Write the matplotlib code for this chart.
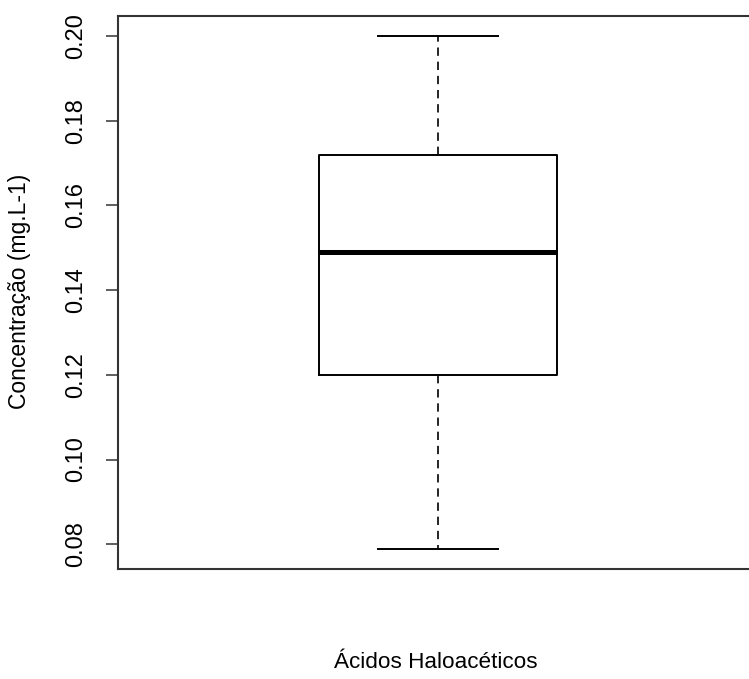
import matplotlib
matplotlib.use("Agg")
import matplotlib.pyplot as plt

plt.rcParams['font.family'] = ['Liberation Sans', 'DejaVu Sans']

# Five-number summary of haloacetic acid concentrations (mg/L)
group_label = "Ácidos Haloacéticos"
whisker_low = 0.079
quartile_1 = 0.120
median = 0.149
quartile_3 = 0.172
whisker_high = 0.200

y_ticks = [0.08, 0.10, 0.12, 0.14, 0.16, 0.18, 0.20]
y_tick_labels = ["0.08", "0.10", "0.12", "0.14", "0.16", "0.18", "0.20"]

fig = plt.figure(figsize=(7.49, 6.79), dpi=100)
ax = fig.add_axes([118 / 749, 1 - 569 / 679, 640 / 749, (569 - 15.5) / 679])

stats = [{
    "med": median, "q1": quartile_1, "q3": quartile_3,
    "whislo": whisker_low, "whishi": whisker_high,
    "fliers": [], "label": group_label,
}]
ax.bxp(stats, positions=[1], widths=0.372, showfliers=False,
       boxprops=dict(color="black", linewidth=1.4),
       medianprops=dict(color="black", linewidth=3.6, solid_capstyle="butt"),
       whiskerprops=dict(color="black", linewidth=1.2, linestyle=(0, (5, 3.5))),
       capprops=dict(color="black", linewidth=1.4),
       capwidths=0.1875)

data_range = whisker_high - whisker_low
ax.set_ylim(whisker_low - 0.04 * data_range, whisker_high + 0.04 * data_range)
ax.set_xlim(0.5, 1.5)

ax.set_yticks(y_ticks)
ax.set_yticklabels(y_tick_labels, rotation=90, va="center")
ax.tick_params(axis="y", length=8.5, width=1.1, pad=14, labelsize=17, color="#333333")
ax.set_xticks([])

for side in ("left", "top", "bottom"):
    ax.spines[side].set_linewidth(1.5)
    ax.spines[side].set_color("#333333")
ax.spines["right"].set_visible(False)

fig.text(20 / 749, 1 - 291 / 679, "Concentração (mg.L-1)", rotation=90,
         ha="center", va="center", fontsize=16.5)
fig.text(436 / 749, 1 - 663 / 679, group_label, ha="center", va="center", fontsize=16.2)

fig.savefig("out.png", dpi=100)
